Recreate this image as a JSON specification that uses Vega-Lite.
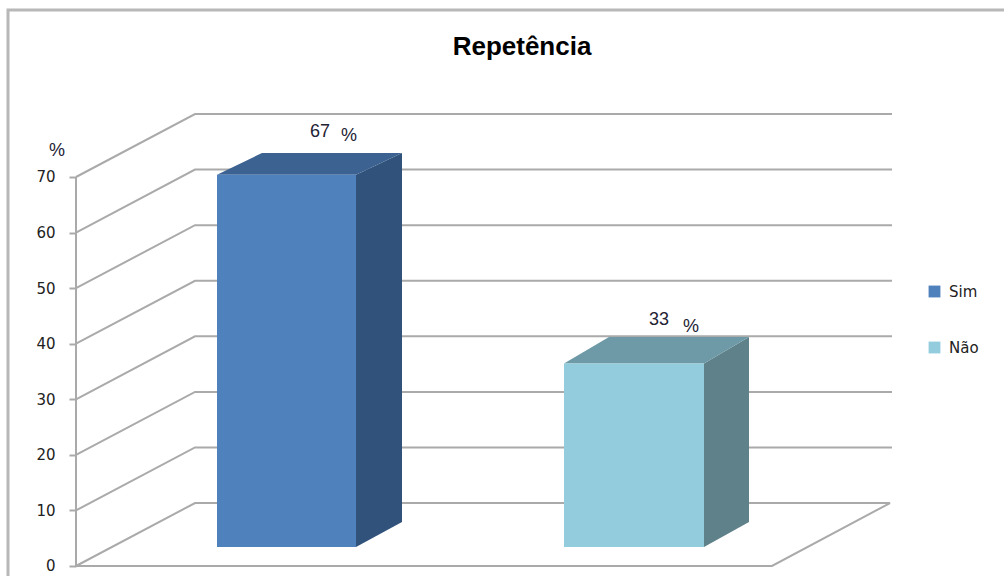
{
  "$schema": "https://vega.github.io/schema/vega-lite/v6.json",
  "width": 996,
  "height": 566,
  "padding": {"left": 8, "top": 10, "right": 0, "bottom": 0},
  "autosize": "none",
  "background": "white",
  "config": {"view": {"stroke": null}},
  "title": {
    "text": "Repetência",
    "font": "Liberation Sans",
    "fontSize": 26,
    "fontWeight": "bold",
    "color": "#000000",
    "anchor": "middle",
    "dx": 16,
    "offset": -56
  },
  "datasets": {
    "moldura": [
      {"ordem": 1, "x": 0.8, "y": -1.8},
      {"ordem": 2, "x": 0.8, "y": 100.05},
      {"ordem": 3, "x": 100.4, "y": 100.05}
    ],
    "linhas": [
      {"linha": "eixo", "ordem": 1, "x": 7.6, "y": 0},
      {"linha": "eixo", "ordem": 2, "x": 7.6, "y": 70},
      {"linha": "piso", "ordem": 1, "x": 7.6, "y": 0},
      {"linha": "piso", "ordem": 2, "x": 19.5, "y": 11.33},
      {"linha": "piso", "ordem": 3, "x": 89, "y": 11.33},
      {"linha": "piso", "ordem": 4, "x": 77.2, "y": 0},
      {"linha": "piso", "ordem": 5, "x": 7.6, "y": 0},
      {"linha": "g10", "ordem": 1, "x": 7.6, "y": 10},
      {"linha": "g10", "ordem": 2, "x": 19.5, "y": 21.33},
      {"linha": "g10", "ordem": 3, "x": 89.2, "y": 21.33},
      {"linha": "g20", "ordem": 1, "x": 7.6, "y": 20},
      {"linha": "g20", "ordem": 2, "x": 19.5, "y": 31.33},
      {"linha": "g20", "ordem": 3, "x": 89.2, "y": 31.33},
      {"linha": "g30", "ordem": 1, "x": 7.6, "y": 30},
      {"linha": "g30", "ordem": 2, "x": 19.5, "y": 41.33},
      {"linha": "g30", "ordem": 3, "x": 89.2, "y": 41.33},
      {"linha": "g40", "ordem": 1, "x": 7.6, "y": 40},
      {"linha": "g40", "ordem": 2, "x": 19.5, "y": 51.33},
      {"linha": "g40", "ordem": 3, "x": 89.2, "y": 51.33},
      {"linha": "g50", "ordem": 1, "x": 7.6, "y": 50},
      {"linha": "g50", "ordem": 2, "x": 19.5, "y": 61.33},
      {"linha": "g50", "ordem": 3, "x": 89.2, "y": 61.33},
      {"linha": "g60", "ordem": 1, "x": 7.6, "y": 60},
      {"linha": "g60", "ordem": 2, "x": 19.5, "y": 71.33},
      {"linha": "g60", "ordem": 3, "x": 89.2, "y": 71.33},
      {"linha": "g70", "ordem": 1, "x": 7.6, "y": 70},
      {"linha": "g70", "ordem": 2, "x": 19.5, "y": 81.33},
      {"linha": "g70", "ordem": 3, "x": 89.2, "y": 81.33}
    ],
    "colunas": [
      {"categoria": "Sim", "inicio": 21.7, "fim": 35.6, "valor": 67},
      {"categoria": "Não", "inicio": 56.4, "fim": 70.4, "valor": 33}
    ],
    "faces": [
      {"peca": "Sim lateral", "x": 35.6, "sup": 67, "inf": 0},
      {"peca": "Sim lateral", "x": 40.2, "sup": 70.9, "inf": 4.5},
      {"peca": "Sim topo", "x": 21.7, "sup": 67, "inf": 67},
      {"peca": "Sim topo", "x": 26.2, "sup": 70.9, "inf": 67},
      {"peca": "Sim topo", "x": 35.6, "sup": 70.9, "inf": 67},
      {"peca": "Sim topo", "x": 40.2, "sup": 70.9, "inf": 70.9},
      {"peca": "Não lateral", "x": 70.4, "sup": 33, "inf": 0},
      {"peca": "Não lateral", "x": 74.9, "sup": 37.8, "inf": 4.5},
      {"peca": "Não topo", "x": 56.4, "sup": 33, "inf": 33},
      {"peca": "Não topo", "x": 60.9, "sup": 37.8, "inf": 33},
      {"peca": "Não topo", "x": 70.4, "sup": 37.8, "inf": 33},
      {"peca": "Não topo", "x": 74.9, "sup": 37.8, "inf": 37.8}
    ],
    "rotulos": [
      {"texto": "67", "x": 32, "y": 78.1},
      {"texto": "%", "x": 34.9, "y": 77.4},
      {"texto": "33", "x": 65.9, "y": 44.2},
      {"texto": "%", "x": 69.1, "y": 43},
      {"texto": "%", "x": 5.7, "y": 74.7}
    ]
  },
  "layer": [
    {
      "data": {"name": "linhas"},
      "mark": {"type": "line", "stroke": "#aaaaaa", "strokeWidth": 2, "interpolate": "linear"},
      "encoding": {
        "x": {"field": "x", "type": "quantitative", "scale": {"domain": [0.8, 100.4], "nice": false, "zero": false}, "axis": null},
        "y": {
          "field": "y",
          "type": "quantitative",
          "scale": {"domain": [-1.8, 100.05], "nice": false, "zero": false},
          "axis": {
            "title": null,
            "values": [0, 10, 20, 30, 40, 50, 60, 70],
            "offset": -68,
            "domain": false,
            "grid": false,
            "tickColor": "#aaaaaa",
            "tickSize": 7,
            "tickWidth": 2,
            "labelPadding": 14,
            "labelFont": "DejaVu Sans",
            "labelFontSize": 15,
            "labelColor": "#222222"
          }
        },
        "detail": {"field": "linha"},
        "order": {"field": "ordem", "type": "quantitative"}
      }
    },
    {
      "data": {"name": "moldura"},
      "mark": {"type": "line", "stroke": "#b8b8b8", "strokeWidth": 3, "interpolate": "linear"},
      "encoding": {
        "x": {"field": "x", "type": "quantitative"},
        "y": {"field": "y", "type": "quantitative"},
        "order": {"field": "ordem", "type": "quantitative"}
      }
    },
    {
      "data": {"name": "faces"},
      "mark": {"type": "area", "yOffset": -19, "y2Offset": -19, "line": false, "opacity": 1},
      "encoding": {
        "x": {"field": "x", "type": "quantitative"},
        "y": {"field": "sup", "type": "quantitative"},
        "y2": {"field": "inf"},
        "color": {
          "field": "peca",
          "type": "nominal",
          "scale": {
            "domain": ["Sim lateral", "Sim topo", "Não lateral", "Não topo"],
            "range": ["#31527b", "#3b6290", "#5f818a", "#6e99a6"]
          },
          "legend": null
        }
      }
    },
    {
      "data": {"name": "colunas"},
      "mark": {"type": "rect", "yOffset": -19, "y2Offset": -19},
      "encoding": {
        "x": {"field": "inicio", "type": "quantitative"},
        "x2": {"field": "fim"},
        "y": {"field": "valor", "type": "quantitative"},
        "y2": {"datum": 0},
        "fill": {
          "field": "categoria",
          "type": "nominal",
          "scale": {"domain": ["Sim", "Não"], "range": ["#4f81bd", "#93cddd"]},
          "legend": {
            "orient": "none",
            "legendX": 919,
            "legendY": 274,
            "title": null,
            "symbolType": "square",
            "symbolSize": 140,
            "symbolStrokeWidth": 0,
            "rowPadding": 40,
            "labelFont": "DejaVu Sans",
            "labelFontSize": 15,
            "labelColor": "#222222",
            "labelOffset": 7
          }
        }
      }
    },
    {
      "data": {"name": "rotulos"},
      "mark": {"type": "text", "font": "Liberation Sans", "fontSize": 18, "color": "#222233"},
      "encoding": {
        "x": {"field": "x", "type": "quantitative"},
        "y": {"field": "y", "type": "quantitative"},
        "text": {"field": "texto"}
      }
    }
  ],
  "resolve": {"scale": {"color": "independent", "fill": "independent"}}
}
